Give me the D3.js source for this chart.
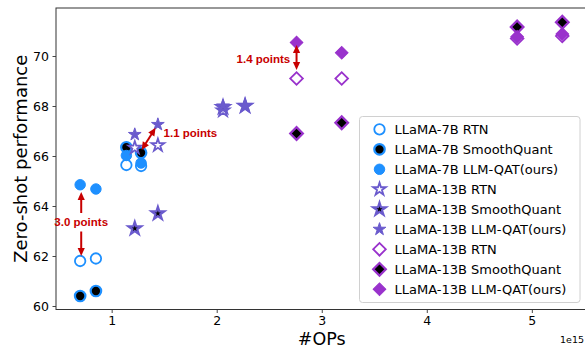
<!DOCTYPE html>
<html>
<head>
<meta charset="utf-8">
<script src="https://cdn.jsdelivr.net/npm/d3@7"></script>
<style>
  html, body { margin: 0; padding: 0; background: #fff; }
  svg { display: block; font-family: "DejaVu Sans", sans-serif; }
</style>
</head>
<body>
<div id="chart"></div>
<script>
// #OPs (x 1e15) for each model size, four bit settings each
const ops7B = [0.70, 0.85, 1.14, 1.28];
const ops13B = [1.22, 1.44, 2.06, 2.27];
const ops30B = [2.76, 3.19, 4.86, 5.29];

// zero-shot accuracy per method
const rtn7B = [61.8, 61.9, 65.64, 65.6];
const sq7B = [60.4, 60.6, 66.35, 66.13];
const qat7B = [64.85, 64.68, 66.02, 65.72];

const rtn13B = [66.33, 66.43, 67.82, 68.0];
const sq13B = [63.1, 63.7, 67.95, 68.0];
const qat13B = [66.86, 67.26, 68.0, 68.02];

const rtn30B = [69.1, 69.1, 70.7, 70.8];
const sq30B = [66.9, 67.33, 71.16, 71.35];
const qat30B = [70.54, 70.13, 70.77, 70.88];

const xTicks = [1, 2, 3, 4, 5];
const yTicks = [60, 62, 64, 66, 68, 70];

const BLUE = '#1E90FF', SLATE = '#6A5ACD', ORCHID = '#9932CC', RED = '#C80000';

const series = [
  { label: 'LLaMA-7B RTN', ops: ops7B, acc: rtn7B, shape: 'circle', color: BLUE, kind: 'rtn' },
  { label: 'LLaMA-7B SmoothQuant', ops: ops7B, acc: sq7B, shape: 'circle', color: BLUE, kind: 'sq' },
  { label: 'LLaMA-7B LLM-QAT(ours)', ops: ops7B, acc: qat7B, shape: 'circle', color: BLUE, kind: 'qat' },
  { label: 'LLaMA-13B RTN', ops: ops13B, acc: rtn13B, shape: 'star', color: SLATE, kind: 'rtn' },
  { label: 'LLaMA-13B SmoothQuant', ops: ops13B, acc: sq13B, shape: 'star', color: SLATE, kind: 'sq' },
  { label: 'LLaMA-13B LLM-QAT(ours)', ops: ops13B, acc: qat13B, shape: 'star', color: SLATE, kind: 'qat' },
  { label: 'LLaMA-13B RTN', ops: ops30B, acc: rtn30B, shape: 'diamond', color: ORCHID, kind: 'rtn' },
  { label: 'LLaMA-13B SmoothQuant', ops: ops30B, acc: sq30B, shape: 'diamond', color: ORCHID, kind: 'sq' },
  { label: 'LLaMA-13B LLM-QAT(ours)', ops: ops30B, acc: qat30B, shape: 'diamond', color: ORCHID, kind: 'qat' }
];

// annotation arrows/labels, in data coordinates
const arrowNotes = [
  { from: [0.71, 63.72], to: [0.71, 64.56], both: false },
  { from: [0.71, 62.98], to: [0.71, 62.0], both: false },
  { from: [1.285, 66.24], to: [1.418, 67.13], both: true },
  { from: [2.76, 69.44], to: [2.76, 70.44], both: true }
];
const noteLabels = [
  { text: '3.0 points', at: [0.71, 63.36], anchor: 'middle' },
  { text: '1.1 points', at: [1.494, 66.92], anchor: 'start' },
  { text: '1.4 points', at: [2.70, 69.87], anchor: 'end' }
];

const width = 585, height = 347;
const plot = { left: 56, right: 587.5, top: 8, bottom: 309.5 };

const svg = d3.select('#chart').append('svg')
  .attr('width', width)
  .attr('height', height);

const x = d3.scaleLinear().domain([0.47, 5.53]).range([plot.left, plot.right]);
const y = d3.scaleLinear().domain([59.86, 71.92]).range([plot.bottom, plot.top]);

function markerPath(shape) {
  if (shape === 'circle') return d3.symbol(d3.symbolCircle, 86)();
  if (shape === 'star') return d3.symbol(d3.symbolStar, 50)();
  return d3.symbol(d3.symbolSquare, 80)();
}

function markerStyle(sel, s) {
  sel.attr('d', markerPath(s.shape))
    .attr('fill', s.kind === 'rtn' ? '#fff' : s.kind === 'sq' ? '#000' : s.color)
    .attr('stroke', s.color)
    .attr('stroke-width', s.kind === 'qat' ? 1 : s.kind === 'sq' ? 2.2 : 1.8);
}

function placeAt(px, py, shape) {
  return `translate(${px},${py})` + (shape === 'diamond' ? ' rotate(45)' : '');
}

// axes
const yAxis = svg.append('g')
  .attr('transform', `translate(${plot.left},0)`)
  .call(d3.axisLeft(y).tickValues(yTicks).tickFormat(d3.format('d'))
    .tickSize(3.5).tickSizeOuter(0).tickPadding(3.5));
const xAxis = svg.append('g')
  .attr('transform', `translate(0,${plot.bottom})`)
  .call(d3.axisBottom(x).tickValues(xTicks).tickFormat(d3.format('d'))
    .tickSize(3.5).tickSizeOuter(0).tickPadding(3.5));

[xAxis, yAxis].forEach(ax => {
  ax.select('.domain').remove();
  ax.selectAll('.tick line').attr('stroke', '#333').attr('stroke-width', 0.9);
  ax.selectAll('.tick text')
    .attr('fill', '#000')
    .style('font-family', '"DejaVu Sans", sans-serif')
    .style('font-size', '12.5px');
});

svg.append('rect')
  .attr('x', plot.left).attr('y', plot.top)
  .attr('width', plot.right - plot.left).attr('height', plot.bottom - plot.top)
  .attr('fill', 'none').attr('stroke', '#333').attr('stroke-width', 1);

// points
series.forEach(s => {
  svg.append('g').selectAll('path')
    .data(s.ops.map((o, i) => [o, s.acc[i]]))
    .enter()
    .append('path')
    .call(markerStyle, s)
    .attr('transform', d => placeAt(x(d[0]), y(d[1]), s.shape));
});

// arrows
function drawArrow(g, x1, y1, x2, y2, both) {
  const len = Math.hypot(x2 - x1, y2 - y1);
  const ux = (x2 - x1) / len, uy = (y2 - y1) / len;
  const hl = 8, hw = 3.6;
  const head = (tx, ty, dx, dy) => {
    const bx = tx - dx * hl, by = ty - dy * hl;
    g.append('path')
      .attr('d', `M${tx},${ty}L${bx - dy * hw},${by + dx * hw}L${bx + dy * hw},${by - dx * hw}Z`)
      .attr('fill', RED);
  };
  const sx = both ? x1 + ux * (hl - 1) : x1, sy = both ? y1 + uy * (hl - 1) : y1;
  g.append('line')
    .attr('x1', sx).attr('y1', sy)
    .attr('x2', x2 - ux * (hl - 1)).attr('y2', y2 - uy * (hl - 1))
    .attr('stroke', RED).attr('stroke-width', 2);
  head(x2, y2, ux, uy);
  if (both) head(x1, y1, -ux, -uy);
}

const notes = svg.append('g');
arrowNotes.forEach(a => drawArrow(notes, x(a.from[0]), y(a.from[1]), x(a.to[0]), y(a.to[1]), a.both));
notes.selectAll('text')
  .data(noteLabels)
  .enter()
  .append('text')
  .attr('x', d => x(d.at[0]))
  .attr('y', d => y(d.at[1]))
  .attr('dy', '0.36em')
  .attr('text-anchor', d => d.anchor)
  .attr('fill', RED)
  .style('font-family', '"Liberation Sans", Arial, sans-serif')
  .style('font-weight', 'bold')
  .style('font-size', '11.5px')
  .text(d => d.text);

// axis labels
svg.append('text')
  .attr('transform', `translate(27,${(plot.top + plot.bottom) / 2}) rotate(-90)`)
  .attr('text-anchor', 'middle')
  .style('font-size', '18px')
  .text('Zero-shot performance');

svg.append('text')
  .attr('x', (plot.left + plot.right) / 2)
  .attr('y', 344.5)
  .attr('text-anchor', 'middle')
  .style('font-size', '17.5px')
  .text('#OPs');

svg.append('text')
  .attr('x', 584)
  .attr('y', 343)
  .attr('text-anchor', 'end')
  .style('font-size', '9.5px')
  .text('1e15');

// legend
const legend = svg.append('g').attr('transform', 'translate(359.5,116.5)');
legend.append('rect')
  .attr('width', 220.5).attr('height', 186)
  .attr('rx', 3)
  .attr('fill', '#fff').attr('fill-opacity', 0.8)
  .attr('stroke', '#d0d0d0');

const rows = legend.selectAll('g.row')
  .data(series)
  .enter()
  .append('g')
  .attr('class', 'row')
  .attr('transform', (d, i) => `translate(0,${12.8 + i * 20})`);

rows.each(function (s) {
  d3.select(this).append('path')
    .call(markerStyle, s)
    .attr('transform', placeAt(20, 0, s.shape));
});

rows.append('text')
  .attr('x', 35)
  .attr('dy', '0.36em')
  .style('font-size', '13px')
  .text(d => d.label);
</script>
</body>
</html>
